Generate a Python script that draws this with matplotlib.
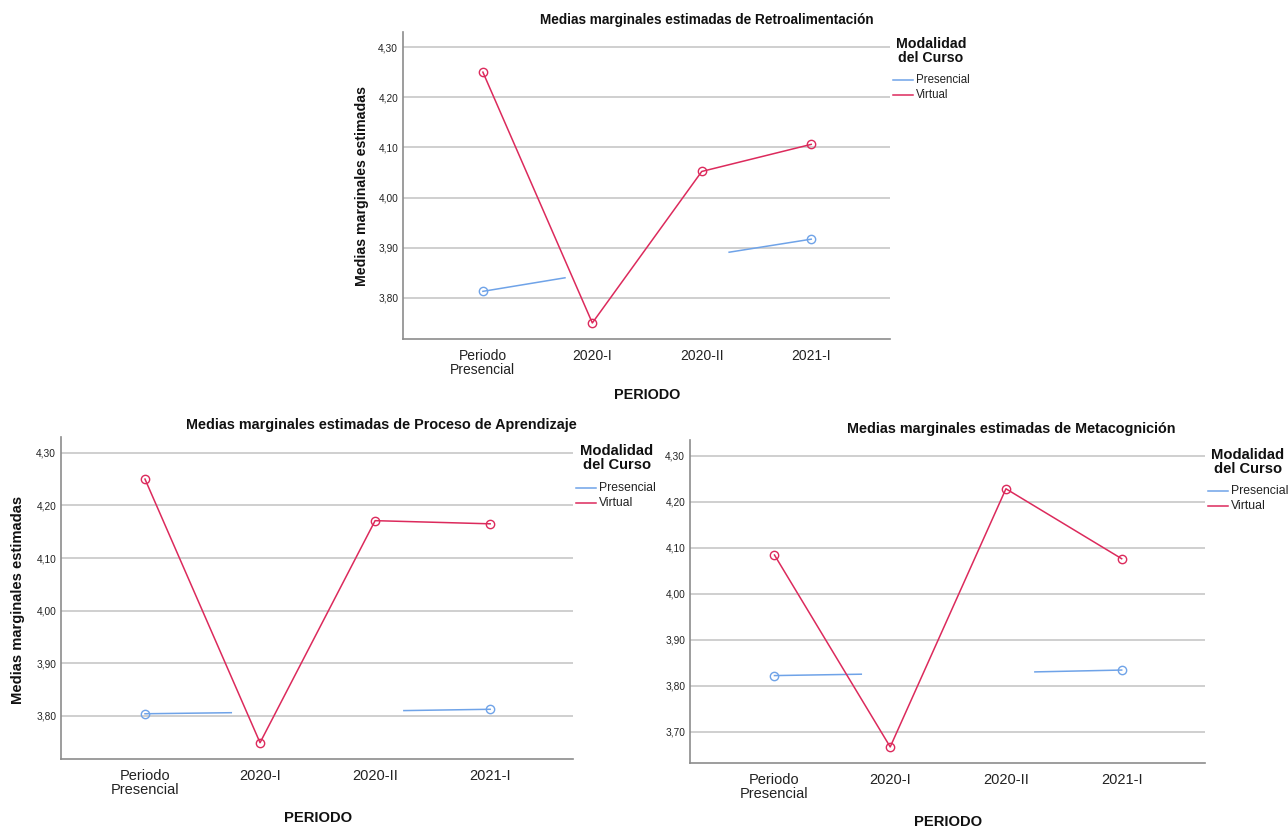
import matplotlib
matplotlib.use("Agg")
import matplotlib.pyplot as plt
from matplotlib.lines import Line2D

plt.rcParams['font.family'] = ['Liberation Sans', 'DejaVu Sans']

categories = ["Periodo\nPresencial", "2020-I", "2020-II", "2021-I"]
series_names = ["Presencial", "Virtual"]
legend_title = "Modalidad\ndel Curso"

# Retroalimentación
retro_virtual = [4.250, 3.750, 4.052, 4.106]
retro_pres_seg1_x = [0, 0.75]
retro_pres_seg1_y = [3.813, 3.840]
retro_pres_seg2_x = [2.25, 3]
retro_pres_seg2_y = [3.891, 3.917]

# Proceso de Aprendizaje
proc_virtual = [4.250, 3.749, 4.171, 4.165]
proc_pres_seg1_x = [0, 0.75]
proc_pres_seg1_y = [3.804, 3.806]
proc_pres_seg2_x = [2.25, 3]
proc_pres_seg2_y = [3.810, 3.8125]

# Metacognición
meta_virtual = [4.084, 3.667, 4.228, 4.076]
meta_pres_seg1_x = [0, 0.75]
meta_pres_seg1_y = [3.822, 3.825]
meta_pres_seg2_x = [2.25, 3]
meta_pres_seg2_y = [3.830, 3.834]

yticks_top = [3.80, 3.90, 4.00, 4.10, 4.20, 4.30]
yticks_meta = [3.70, 3.80, 3.90, 4.00, 4.10, 4.20, 4.30]

BLUE = "#6FA3E8"
RED = "#DC2A5C"
GRID = "#CFCFCF"
SPINE = "#8C8C8C"

W, H = 1288, 827
fig = plt.figure(figsize=(W / 100, H / 100), dpi=100)


def px_axes(l, r, t, b):
    return fig.add_axes([l / W, 1 - b / H, (r - l) / W, (b - t) / H])


def draw(ax, virtual, s1x, s1y, s2x, s2y, yticks, ylim, xfs):
    x = list(range(len(categories)))
    ax.plot(s1x, s1y, color=BLUE, lw=1.1, zorder=3)
    ax.plot(s2x, s2y, color=BLUE, lw=1.1, zorder=3)
    ax.plot([s1x[0]], [s1y[0]], 'o', mfc='none', mec=BLUE, ms=6, mew=1.0, zorder=4)
    ax.plot([s2x[-1]], [s2y[-1]], 'o', mfc='none', mec=BLUE, ms=6, mew=1.0, zorder=4)
    ax.plot(x, virtual, color=RED, lw=1.1, marker='o', mfc='none', mec=RED,
            ms=6, mew=1.0, zorder=5)
    ax.set_xlim(-0.73, 3.72)
    ax.set_ylim(*ylim)
    ax.set_yticks(yticks)
    ax.set_yticklabels([f"{v:.2f}".replace('.', ',') for v in yticks], fontsize=7.3, color='#222222')
    ax.set_xticks(x)
    ax.set_xticklabels(categories, fontsize=xfs, color='#222222', linespacing=1.05)
    ax.tick_params(length=0)
    ax.tick_params(axis='y', pad=3.5)
    ax.tick_params(axis='x', pad=7)
    ax.yaxis.grid(True, color=GRID, lw=1.4, zorder=0)
    ax.set_axisbelow(True)
    for s in ['top', 'right']:
        ax.spines[s].set_visible(False)
    for s in ['left', 'bottom']:
        ax.spines[s].set_color(SPINE)
        ax.spines[s].set_linewidth(1.2)


def legend(title_cx, title_cy, line_x0, first_y, step, tfs, efs):
    fig.text(title_cx / W, 1 - title_cy / H, legend_title, fontsize=tfs, fontweight='bold',
             ha='center', va='center', multialignment='center', linespacing=1.0,
             color='#111111')
    for i, (name, col) in enumerate(zip(series_names, [BLUE, RED])):
        y = 1 - (first_y + i * step) / H
        fig.add_artist(Line2D([line_x0 / W, (line_x0 + 20) / W], [y, y], color=col, lw=1.1,
                              transform=fig.transFigure))
        fig.text((line_x0 + 23) / W, y, name, fontsize=efs, ha='left', va='center',
                 color='#222222')


ax1 = px_axes(403, 890, 32, 339)
draw(ax1, retro_virtual, retro_pres_seg1_x, retro_pres_seg1_y,
     retro_pres_seg2_x, retro_pres_seg2_y, yticks_top, (3.718, 4.33), 10)
legend(931, 51, 893, 80, 15, 10.2, 8.3)

ax2 = px_axes(61, 573, 437, 759)
draw(ax2, proc_virtual, proc_pres_seg1_x, proc_pres_seg1_y,
     proc_pres_seg2_x, proc_pres_seg2_y, yticks_top, (3.718, 4.33), 10.5)
legend(617, 458, 576, 488, 15, 10.6, 8.7)

ax3 = px_axes(690, 1205, 440, 763)
draw(ax3, meta_virtual, meta_pres_seg1_x, meta_pres_seg1_y,
     meta_pres_seg2_x, meta_pres_seg2_y, yticks_meta, (3.632, 4.334), 10.5)
legend(1248, 462, 1208, 491, 15, 10.6, 8.8)

fig.text(707 / W, 1 - 20 / H, "Medias marginales estimadas de Retroalimentación",
         fontsize=9.85, fontweight='bold', ha='center', va='center', color='#111111')
fig.text(381 / W, 1 - 425 / H, "Medias marginales estimadas de Proceso de Aprendizaje",
         fontsize=10.4, fontweight='bold', ha='center', va='center', color='#111111')
fig.text(1011 / W, 1 - 429 / H, "Medias marginales estimadas de Metacognición",
         fontsize=10.4, fontweight='bold', ha='center', va='center', color='#111111')

lkw = dict(fontweight='bold', ha='center', va='center', color='#111111')
fig.text(362 / W, 1 - 186 / H, "Medias marginales estimadas", rotation=90, fontsize=10.2, **lkw)
fig.text(18 / W, 1 - 600 / H, "Medias marginales estimadas", rotation=90, fontsize=10.6, **lkw)
fig.text(647 / W, 1 - 395 / H, "PERIODO", fontsize=10.4, **lkw)
fig.text(318 / W, 1 - 818 / H, "PERIODO", fontsize=10.6, **lkw)
fig.text(948 / W, 1 - 822 / H, "PERIODO", fontsize=10.6, **lkw)

fig.savefig("out.png", dpi=100, facecolor='white')
